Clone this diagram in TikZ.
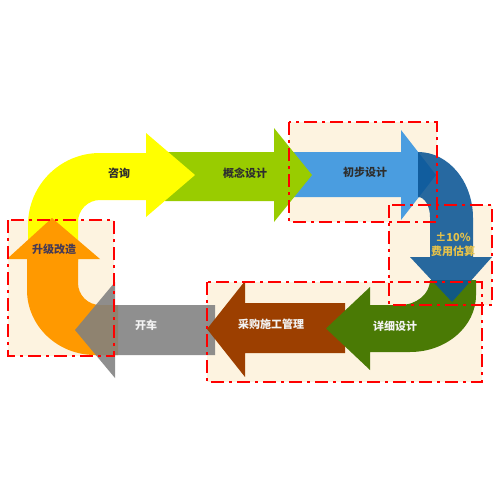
\documentclass[tikz,border=0pt]{standalone}
\usepackage{fontspec}
\newfontfamily\cjk{Noto Sans CJK SC}
\definecolor{beige}{HTML}{FDF3E0}
\definecolor{cyellow}{HTML}{FFFF00}
\definecolor{clgreen}{HTML}{99CC00}
\definecolor{clblue}{HTML}{4A9DE0}
\definecolor{cdblue}{HTML}{0A5595}
\definecolor{colive}{HTML}{4A7A05}
\definecolor{cbrown}{HTML}{9C3F00}
\definecolor{cgray}{HTML}{808080}
\definecolor{corange}{HTML}{FF9900}
\definecolor{tdark}{HTML}{2E2E2E}
\definecolor{tpurple}{HTML}{463A55}
\definecolor{tlight}{HTML}{F2F2F2}
\definecolor{tgold}{HTML}{E6C24A}
\begin{document}
\begin{tikzpicture}[x=1pt,y=-1pt,
  boxfill/.style={fill=beige},
  boxline/.style={draw=red, line width=2.6pt, dash pattern=on 13pt off 5pt on 3pt off 5pt},
  lbl/.style={font=\cjk\bfseries\fontsize{11}{14}\selectfont, inner sep=0pt, align=center}]
\useasboundingbox (0,0) rectangle (500,500);
\fill[white] (0,0) rectangle (500,500);
% box corners
\coordinate (b1a) at (8,220);   \coordinate (b1b) at (114,356);
\coordinate (b2a) at (289,122); \coordinate (b2b) at (437,222);
\coordinate (b3a) at (389,205); \coordinate (b3b) at (492,305);
\coordinate (b4a) at (207,282); \coordinate (b4b) at (482,382);
\fill[boxfill] (b1a) rectangle (b1b);
\fill[boxfill] (b2a) rectangle (b2b);
\fill[boxfill] (b3a) rectangle (b3b);
\fill[boxfill] (b4a) rectangle (b4b);
% light blue arrow
\fill[clblue] (288,152) -- (401,152) -- (401,130) -- (436,175) -- (401,220) -- (401,197) -- (288,197) -- cycle;
% light green arrow
\fill[clgreen] (165,152) -- (274,152) -- (274,128) -- (312,175) -- (274,222) -- (274,201) -- (165,201) -- cycle;
% yellow bent arrow
\fill[cyellow] (28,262) -- (28,225) .. controls (28,185.2) and (60.2,153) .. (100,153)
  -- (146,153) -- (146,133) -- (195,175) -- (146,217) -- (146,200) -- (100,200)
  .. controls (87.9,200) and (78,209.9) .. (78,222) -- (78,262) -- cycle;
% orange bent arrow
\fill[corange] (27,259) -- (7,259) -- (52,218) -- (100,259) -- (78,259) -- (78,283)
  .. controls (78,295.1) and (87.9,305) .. (100,305) -- (118,305) -- (118,355) -- (95,355)
  .. controls (57.5,355) and (27,325.9) .. (27,290) -- cycle;
% gray arrow
\fill[cgray, fill opacity=0.88] (215,305) -- (115,305) -- (115,282) -- (75,330) -- (115,378) -- (115,355) -- (215,355) -- cycle;
% brown arrow
\fill[cbrown] (345,303) -- (245,303) -- (245,281) -- (207,329) -- (245,377) -- (245,353) -- (345,353) -- cycle;
% olive bent arrow
\fill[colive] (476,280) -- (476,295) .. controls (476,326.5) and (446.4,352) .. (410,352)
  -- (370,352) -- (370,370) -- (326,328.5) -- (370,287) -- (370,305) -- (400,305)
  .. controls (416.6,305) and (430,293.8) .. (430,280) -- cycle;
% dark blue bent arrow
\fill[cdblue, fill opacity=0.88] (418,152) .. controls (448.4,152) and (473,181.6) .. (473,218)
  -- (473,257) -- (492,257) -- (452,302) -- (410,257) -- (430,257) -- (430,217)
  .. controls (430,206) and (424.6,197) .. (418,197) -- cycle;
% dashed borders
\draw[boxline] (b1a) rectangle (b1b);
\draw[boxline] (b2a) rectangle (b2b);
\draw[boxline] (b3a) rectangle (b3b);
\draw[boxline] (b4a) rectangle (b4b);
% labels
\node[lbl, text=tdark] (zixun) at (119,173) {咨询};
\node[lbl, text=tdark] (gainian) at (245,173) {概念设计};
\node[lbl, text=tdark] (chubu) at (365,172) {初步设计};
\node[lbl, text=tgold] (guji) at (453,245) {±10\%\\费用估算};
\node[lbl, text=tpurple] (shengji) at (54,249) {升级改造};
\node[lbl, text=tlight] (kaiche) at (146,325) {开车};
\node[lbl, text=tlight] (caigou) at (271,324) {采购施工管理};
\node[lbl, text=tlight] (xiangxi) at (395,326) {详细设计};
\end{tikzpicture}
\end{document}
